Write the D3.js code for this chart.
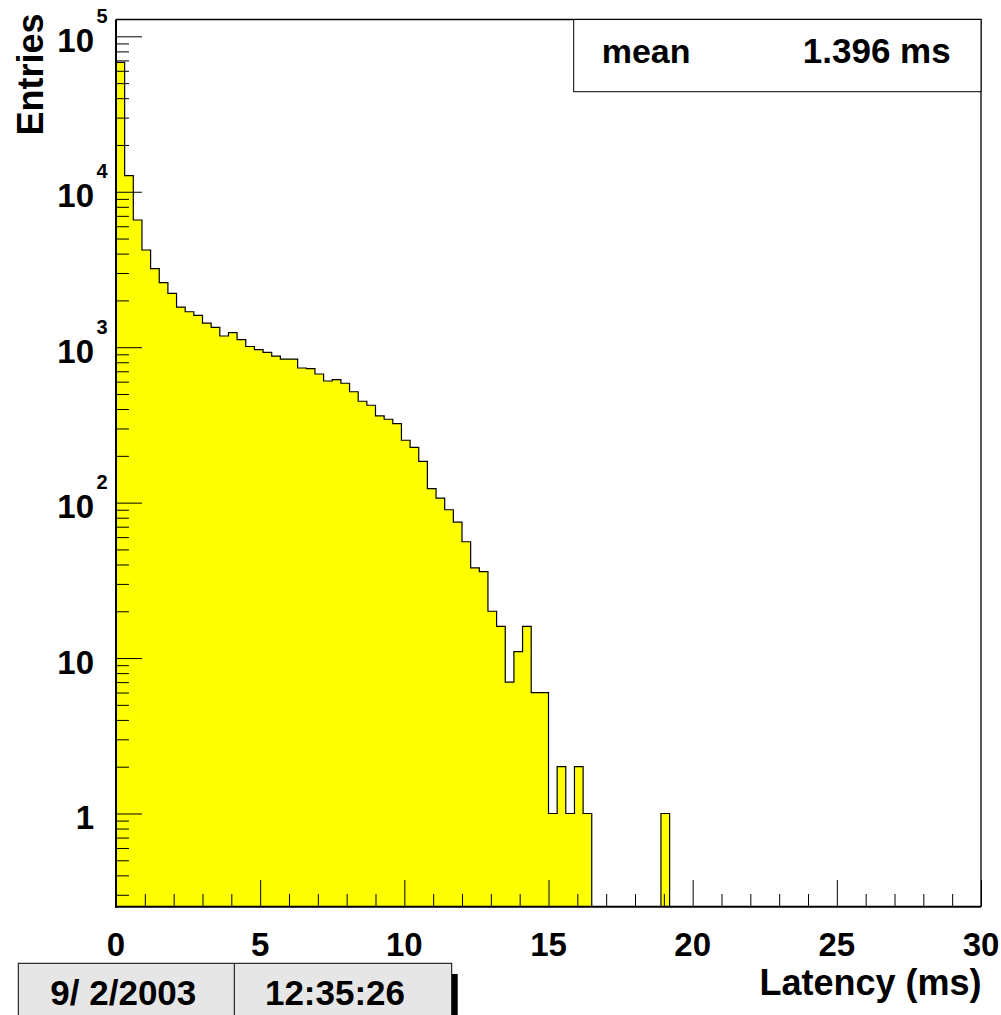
<!DOCTYPE html>
<html>
<head>
<meta charset="utf-8">
<script src="https://cdn.jsdelivr.net/npm/d3@7"></script>
<style>
  html, body { margin: 0; padding: 0; background: #fff; }
  svg { display: block; }
  text { font-family: "Liberation Sans", Arial, Helvetica, sans-serif; font-weight: bold; fill: #000; }
</style>
</head>
<body>
<div id="chart"></div>
<script>
// Latency histogram: 100 bins of 0.3 ms from 0 to 30 ms
const binLow = 0;
const binHigh = 30;
const counts = [
  68000, 12700, 6580, 4220, 3200, 2600, 2220, 1810, 1690, 1600,
  1430, 1340, 1180, 1240, 1120, 1010, 964, 927, 877, 839,
  839, 735, 727, 672, 606, 618, 586, 517, 449, 423,
  362, 344, 322, 252, 227, 184, 123, 107, 90, 75,
  56, 38, 36, 20, 16, 7, 11, 16, 6, 6,
  1, 2, 1, 2, 1, 0, 0, 0, 0, 0,
  0, 0, 0, 1, 0, 0, 0, 0, 0, 0,
  0, 0, 0, 0, 0, 0, 0, 0, 0, 0,
  0, 0, 0, 0, 0, 0, 0, 0, 0, 0,
  0, 0, 0, 0, 0, 0, 0, 0, 0, 0
];

// Axis ranges
const yMin = 0.2514;
const yMax = 1.283e5;

// Tick definitions
const xMajorTicks = [0, 5, 10, 15, 20, 25, 30];
const xTickLabels = ["0", "5", "10", "15", "20", "25", "30"];
const yMajorTicks = [1, 10, 100, 1000, 10000, 100000];
const yTickBases = ["1", "10", "10", "10", "10", "10"];
const yTickExps = ["", "", "2", "3", "4", "5"];

// Texts
const xTitle = "Latency (ms)";
const yTitle = "Entries";
const statName = "mean";
const statValue = "1.396 ms";
const dateText = "9/ 2/2003";
const timeText = "12:35:26";

const W = 1001, H = 1015;
const frame = { left: 116, right: 981, top: 19.5, bottom: 906.7 };

const svg = d3.select("#chart").append("svg")
  .attr("width", W).attr("height", H);

const x = d3.scaleLinear().domain([binLow, binHigh]).range([frame.left, frame.right]);
const y = d3.scaleLog().domain([yMin, yMax]).range([frame.bottom, frame.top]);

svg.append("clipPath").attr("id", "plotClip")
  .append("rect")
  .attr("x", frame.left).attr("y", frame.top)
  .attr("width", frame.right - frame.left)
  .attr("height", frame.bottom - frame.top);

// Step outline points of the histogram
const binWidth = (binHigh - binLow) / counts.length;
const steps = [];
counts.forEach((c, i) => {
  const v = c > 0 ? c : yMin;
  steps.push({ x: binLow + i * binWidth, v });
  steps.push({ x: binLow + (i + 1) * binWidth, v });
});

const area = d3.area()
  .x(d => x(d.x))
  .y0(y(yMin))
  .y1(d => y(d.v));
const line = d3.line()
  .x(d => x(d.x))
  .y(d => y(d.v));

const plot = svg.append("g").attr("clip-path", "url(#plotClip)");
plot.append("path")
  .datum(steps)
  .attr("d", area)
  .attr("fill", "#ffff00")
  .attr("stroke", "none");
plot.append("path")
  .datum(steps)
  .attr("d", line)
  .attr("fill", "none")
  .attr("stroke", "#000")
  .attr("stroke-width", 1.2);

// Frame (top and right)
svg.append("path")
  .attr("d", `M${frame.left},${frame.top}H${frame.right}V${frame.bottom}`)
  .attr("fill", "none").attr("stroke", "#000").attr("stroke-width", 1.3);

// X axis: major every 5 ms, minor every 1 ms, ticks drawn inward
const xMinor = d3.range(binLow, binHigh + 0.001, 1).filter(v => v % 5 !== 0);
const xAxisMajor = d3.axisBottom(x).tickValues(xMajorTicks).tickSize(-26.7).tickFormat("");
const xAxisMinor = d3.axisBottom(x).tickValues(xMinor).tickSize(-12.7).tickFormat("");
svg.append("g").attr("transform", `translate(0,${frame.bottom})`).call(xAxisMinor)
  .call(g => g.select(".domain").remove())
  .call(g => g.selectAll("line").attr("stroke", "#000").attr("stroke-width", 1));
svg.append("g").attr("transform", `translate(0,${frame.bottom})`).call(xAxisMajor)
  .call(g => g.select(".domain").remove())
  .call(g => g.selectAll("line").attr("stroke", "#000").attr("stroke-width", 1));

// Y axis: decades major, 2..9 minor, ticks drawn inward
const yMinor = [];
for (let e = -1; e <= 5; e++) {
  for (let m = 2; m <= 9; m++) {
    const v = m * Math.pow(10, e);
    if (v >= yMin && v <= yMax) yMinor.push(v);
  }
}
const yAxisMajor = d3.axisLeft(y).tickValues(yMajorTicks).tickSize(-26).tickFormat("");
const yAxisMinor = d3.axisLeft(y).tickValues(yMinor).tickSize(-13).tickFormat("");
svg.append("g").attr("transform", `translate(${frame.left},0)`).call(yAxisMinor)
  .call(g => g.select(".domain").remove())
  .call(g => g.selectAll("line").attr("stroke", "#000").attr("stroke-width", 1));
svg.append("g").attr("transform", `translate(${frame.left},0)`).call(yAxisMajor)
  .call(g => g.select(".domain").remove())
  .call(g => g.selectAll("line").attr("stroke", "#000").attr("stroke-width", 1));

// Axis lines
svg.append("line")
  .attr("x1", frame.left).attr("x2", frame.left)
  .attr("y1", frame.top).attr("y2", frame.bottom + 1)
  .attr("stroke", "#000").attr("stroke-width", 2);
svg.append("line")
  .attr("x1", frame.left - 1).attr("x2", frame.right)
  .attr("y1", frame.bottom).attr("y2", frame.bottom)
  .attr("stroke", "#000").attr("stroke-width", 2);

// X tick labels
svg.append("g").selectAll("text")
  .data(xMajorTicks)
  .join("text")
  .attr("x", d => x(d))
  .attr("y", 955.7)
  .attr("text-anchor", "middle")
  .attr("font-size", 33)
  .text((d, i) => xTickLabels[i]);

// Y tick labels with exponents
const yLab = svg.append("g").selectAll("g")
  .data(yMajorTicks)
  .join("g");
yLab.append("text")
  .attr("x", 94)
  .attr("y", d => y(d) + 15.5)
  .attr("text-anchor", "end")
  .attr("font-size", 33)
  .text((d, i) => yTickBases[i]);
yLab.append("text")
  .attr("x", 96.5)
  .attr("y", d => y(d) - 13.3)
  .attr("text-anchor", "start")
  .attr("font-size", 20)
  .text((d, i) => yTickExps[i]);

// Axis titles
svg.append("text")
  .attr("x", 981.5).attr("y", 995)
  .attr("text-anchor", "end")
  .attr("font-size", 36)
  .text(xTitle);
svg.append("text")
  .attr("transform", "translate(43.3,13.5) rotate(-90)")
  .attr("text-anchor", "end")
  .attr("font-size", 36)
  .text(yTitle);

// Statistics box
svg.append("rect")
  .attr("x", 573.7).attr("y", frame.top)
  .attr("width", frame.right - 573.7).attr("height", 72.2)
  .attr("fill", "#fff").attr("stroke", "#000").attr("stroke-width", 1);
svg.append("text")
  .attr("x", 601.7).attr("y", 63.3)
  .attr("font-size", 34)
  .text(statName);
svg.append("text")
  .attr("x", 950.7).attr("y", 63.3)
  .attr("text-anchor", "end")
  .attr("font-size", 35)
  .text(statValue);

// Date / time stamp box with shadow
svg.append("rect")
  .attr("x", 451.7).attr("y", 974)
  .attr("width", 6).attr("height", 60)
  .attr("fill", "#000");
svg.append("rect")
  .attr("x", 18.3).attr("y", 963.3)
  .attr("width", 433.4).attr("height", 70)
  .attr("fill", "#e6e6e6").attr("stroke", "#000").attr("stroke-width", 1);
svg.append("line")
  .attr("x1", 234.3).attr("x2", 234.3)
  .attr("y1", 963.3).attr("y2", 1020)
  .attr("stroke", "#000").attr("stroke-width", 1);
svg.append("text")
  .attr("x", 123.3).attr("y", 1005)
  .attr("text-anchor", "middle")
  .attr("font-size", 35)
  .style("white-space", "pre")
  .text(dateText);
svg.append("text")
  .attr("x", 335).attr("y", 1005)
  .attr("text-anchor", "middle")
  .attr("font-size", 35)
  .text(timeText);
</script>
</body>
</html>
